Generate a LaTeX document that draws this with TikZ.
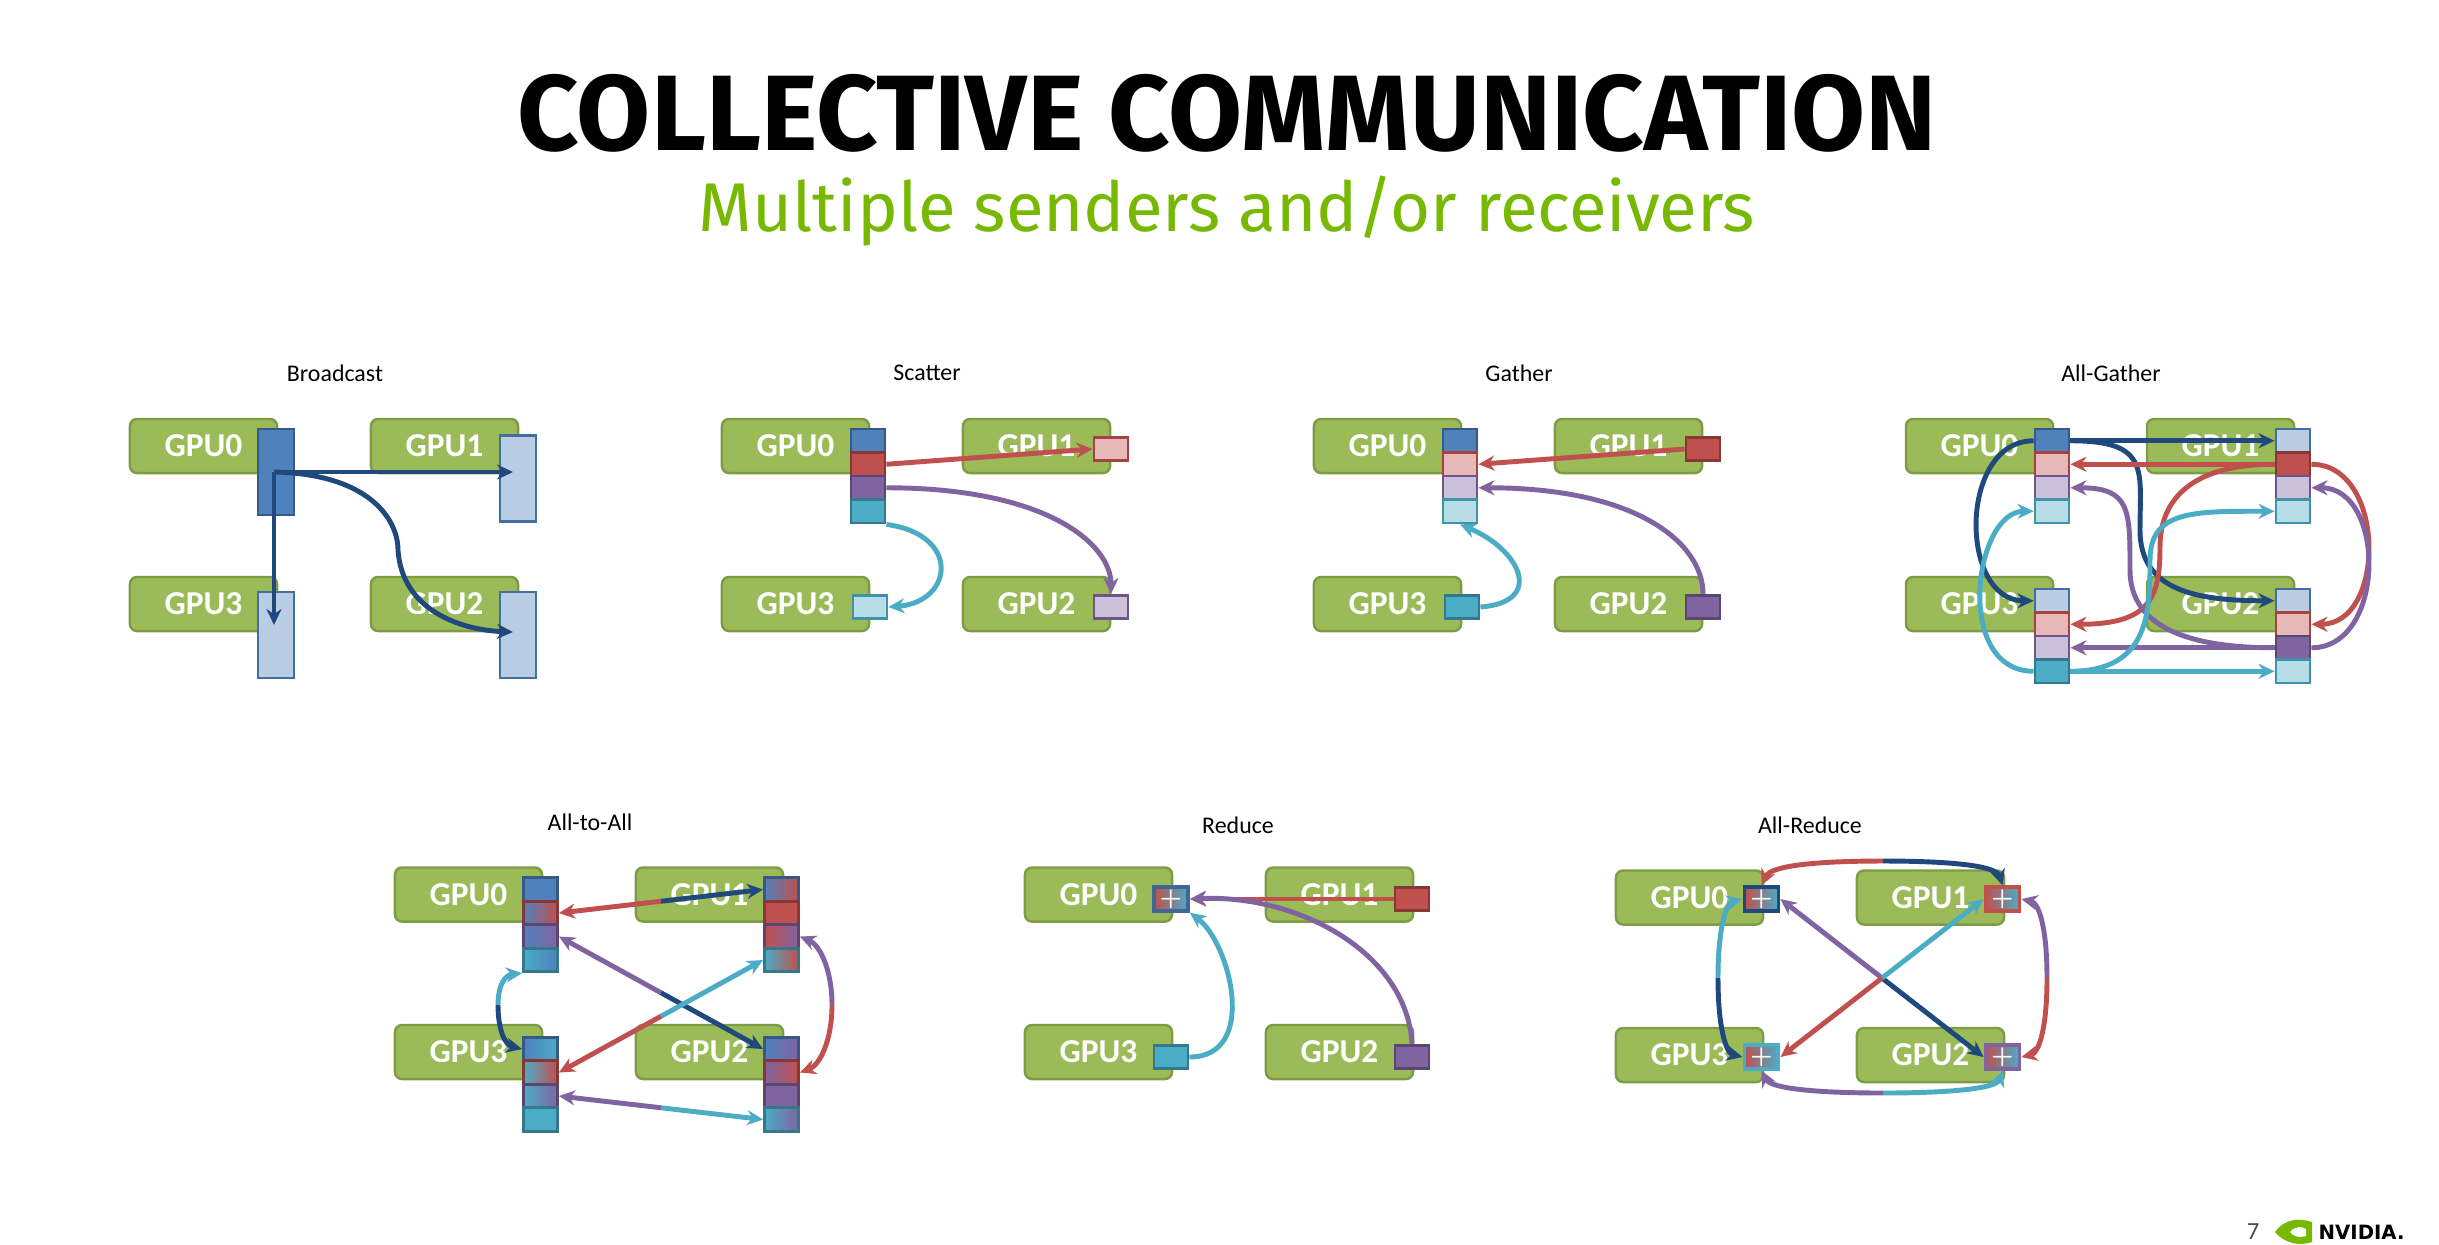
\documentclass[tikz,border=0pt]{standalone}
\usepackage{fontspec}
\usetikzlibrary{arrows.meta,calc}
\newfontfamily\carlito{Carlito}
\newfontfamily\fira{Fira Sans}
\definecolor{cBlue}{HTML}{4F81BD}
\definecolor{cRed}{HTML}{C0504D}
\definecolor{cPurple}{HTML}{8064A2}
\definecolor{cCyan}{HTML}{4BACC6}
\definecolor{dBlue}{HTML}{1F497D}
\definecolor{gpuF}{HTML}{9BBB59}
\definecolor{gpuB}{HTML}{7E9C45}
\definecolor{nvGreen}{RGB}{118,185,0}
\tikzset{
 gpu/.style={draw=gpuB, fill=gpuF, rounded corners=0.07cm, minimum width=1.47cm, minimum height=0.54cm, line width=0.7pt, font={\carlito\bfseries\fontsize{9.5}{10}\selectfont}, text=white, inner sep=0},
 cell/.style={minimum width=0.34cm, minimum height=0.235cm, inner sep=0, line width=0.8pt},
 sB/.style={fill=cBlue,draw=cBlue!70!black}, sR/.style={fill=cRed,draw=cRed!70!black},
 sP/.style={fill=cPurple,draw=cPurple!70!black}, sC/.style={fill=cCyan,draw=cCyan!70!black},
 lB/.style={fill=cBlue!40!white,draw=cBlue!85!black}, lR/.style={fill=cRed!40!white,draw=cRed!85!black},
 lP/.style={fill=cPurple!40!white,draw=cPurple!85!black}, lC/.style={fill=cCyan!40!white,draw=cCyan!85!black},
 gr/.style n args={3}{left color=#1,right color=#2,draw=#3},
 pc/.style={cell, left color=cRed, middle color=cPurple, right color=cCyan, draw=#1, line width=1.1pt, text=white, font={\bfseries\fontsize{6}{6}\selectfont}},
 arr/.style={line width=1.4pt, -{Stealth[length=0.16cm,width=0.15cm]}},
 ttl/.style={font={\carlito\fontsize{6.8}{8}\selectfont}, text=black},
}
\newcommand\gpustop[1]{%
 \node[gpu] (#1g0) at (203.5,446) {GPU0};
 \node[gpu] (#1g1) at (444.5,446) {GPU1};
 \node[gpu] (#1g3) at (203.5,604) {GPU3};
 \node[gpu] (#1g2) at (444.5,604) {GPU2};}
\newcommand\gpusbot[1]{%
 \node[gpu] (#1g0) at (468.5,894.5) {GPU0};
 \node[gpu] (#1g1) at (709.5,894.5) {GPU1};
 \node[gpu] (#1g3) at (468.5,1052) {GPU3};
 \node[gpu] (#1g2) at (709.5,1052) {GPU2};}
\newcommand\ccol[7]{%
 \node[cell,#4] (#1a) at (#2,#3) {};
 \node[cell,#5] (#1b) at (#2,#3+23.5) {};
 \node[cell,#6] (#1c) at (#2,#3+47) {};
 \node[cell,#7] (#1d) at (#2,#3+70.5) {};}
\newcommand\dbl[4]{%
 \coordinate (mm) at ($(#1)!0.5!(#3)$);
 \draw[arr,#2] (mm) -- (#1); \draw[arr,#4] (mm) -- (#3);}
\begin{document}
\begin{tikzpicture}[x=0.01cm,y=-0.01cm]
\useasboundingbox (0,0) rectangle (2439,1244);
\fill[white] (0,0) rectangle (2439,1244);
\node (title) at (1227,113) {\fira\bfseries\fontsize{30.5}{34}\selectfont COLLECTIVE COMMUNICATION};
\node[text=nvGreen] (sub) at (1227,211) {\fira\fontsize{19.6}{24}\selectfont Multiple senders and/or receivers};
% ---------- Broadcast
\node[ttl] (tB) at (335,373) {Broadcast};
\gpustop{B}
\node[cell,sB,minimum height=0.86cm,minimum width=0.36cm] (B0) at (276,472) {};
\node[cell,lB,minimum height=0.86cm,minimum width=0.36cm] (B1) at (518,478.5) {};
\node[cell,lB,minimum height=0.86cm,minimum width=0.36cm] (B3) at (276,635) {};
\node[cell,lB,minimum height=0.86cm,minimum width=0.36cm] (B2) at (518,635) {};
\coordinate (Bs) at (274,472);
\draw[arr,dBlue] (Bs) -- (513,472);
\draw[arr,dBlue] (Bs) -- (274,625);
\draw[arr,dBlue] (Bs) .. controls (370,474) and (398,520) .. (398,550) .. controls (402,610) and (460,630) .. (513,632);
% ---------- Scatter
\begin{scope}[shift={(592,0)}]
\node[ttl] (tS) at (335,373) {Scatter};
\gpustop{S}
\ccol{S0}{276}{440.75}{sB}{sR}{sP}{sC}
\node[cell,lR] (S1) at (519,449) {};
\node[cell,lP] (S2) at (519,607) {};
\node[cell,lC] (S3) at (278,607) {};
\draw[arr,cRed] (S0b.east) -- (S1.west);
\draw[arr,cPurple] (S0c.east) .. controls +(160,0) and +(0,-50) .. (S2.north);
\draw[arr,cCyan] (S0d.south east) .. controls +(75,10) and +(65,-5) .. (S3.east);
\end{scope}
% ---------- Gather
\begin{scope}[shift={(1184,0)}]
\node[ttl] (tG) at (335,373) {Gather};
\gpustop{G}
\ccol{G0}{276}{440.75}{sB}{lR}{lP}{lC}
\node[cell,sR] (G1) at (519,449) {};
\node[cell,sP] (G2) at (519,607) {};
\node[cell,sC] (G3) at (278,607) {};
\draw[arr,cRed] (G1.west) -- (G0b.east);
\draw[arr,cPurple] (G2.north) .. controls +(0,-50) and +(160,0) .. (G0c.east);
\draw[arr,cCyan] (G3.east) .. controls +(65,-5) and +(60,25) .. (G0d.south);
\end{scope}
% ---------- All-Gather
\begin{scope}[shift={(1776,0)}]
\node[ttl] (tA) at (335,373) {All-Gather};
\gpustop{A}
\ccol{A0}{276}{440.75}{sB}{lR}{lP}{lC}
\ccol{A1}{517}{440.75}{lB}{sR}{lP}{lC}
\ccol{A3}{276}{600.75}{lB}{lR}{lP}{sC}
\ccol{A2}{517}{600.75}{lB}{lR}{sP}{lC}
\draw[arr,dBlue] (A0a.east) -- (A1a.west);
\draw[arr,dBlue] (A0a.west) .. controls +(-75,0) and +(-75,0) .. (A3a.west);
\draw[arr,dBlue] (A0a.east) .. controls +(80,0) and +(0,-60) .. (364,530) .. controls +(0,60) and +(-80,0) .. (A2a.west);
\draw[arr,cRed] (A1b.west) -- (A0b.east);
\draw[arr,cRed] (A1b.west) .. controls +(-80,0) and +(0,-50) .. (384,547) .. controls +(0,50) and +(80,0) .. (A3b.east);
\draw[arr,cRed] (A1b.east) .. controls +(75,0) and +(75,0) .. (A2b.east);
\draw[arr,cPurple] (A2c.west) -- (A3c.east);
\draw[arr,cPurple] (A2c.west) .. controls +(-80,0) and +(0,60) .. (354,570) .. controls +(0,-60) and +(60,0) .. (A0c.east);
\draw[arr,cPurple] (A2c.east) .. controls +(75,0) and +(75,0) .. (A1c.east);
\draw[arr,cCyan] (A3d.east) -- (A2d.west);
\draw[arr,cCyan] (A3d.west) .. controls +(-80,0) and +(-60,0) .. (A0d.west);
\draw[arr,cCyan] (A3d.east) .. controls +(80,0) and +(0,50) .. (374,560) .. controls +(0,-50) and +(-80,0) .. (A1d.west);
\end{scope}
% ---------- All-to-All
\node[ttl] (tT) at (590,822) {All-to-All};
\gpusbot{T}
\ccol{T0}{540.5}{889.5}{sB}{gr={cBlue}{cRed}{cRed!70!black}}{gr={cBlue}{cPurple}{cPurple!70!black}}{gr={cCyan}{cBlue}{cCyan!70!black}}
\ccol{T1}{781.5}{889.5}{gr={cBlue}{cRed}{cBlue!70!black}}{sR}{gr={cRed}{cPurple}{cPurple!70!black}}{gr={cCyan}{cRed}{cCyan!70!black}}
\ccol{T3}{540.5}{1049}{gr={cBlue}{cCyan}{cBlue!70!black}}{gr={cCyan}{cRed}{cRed!70!black}}{gr={cCyan}{cPurple}{cPurple!70!black}}{sC}
\ccol{T2}{781.5}{1049}{gr={cBlue}{cPurple}{cBlue!70!black}}{gr={cPurple}{cRed}{cRed!70!black}}{sP}{gr={cCyan}{cPurple}{cCyan!70!black}}
\dbl{T0b.east}{cRed}{T1a.west}{dBlue}
\dbl{T0c.east}{cPurple}{T2a.west}{dBlue}
\dbl{T1d.west}{cCyan}{T3b.east}{cRed}
\dbl{T3c.east}{cPurple}{T2d.west}{cCyan}
\coordinate (TL) at (498,1005);
\draw[arr,cCyan] (TL) .. controls (498,985) and (505,975) .. (T0d.south west);
\draw[arr,dBlue] (TL) .. controls (498,1030) and (505,1045) .. (T3a.west);
\coordinate (TR) at (832,1005);
\draw[arr,cPurple] (TR) .. controls (832,970) and (820,945) .. (T1c.east);
\draw[arr,cRed] (TR) .. controls (832,1040) and (820,1065) .. (T2b.east);
% ---------- Reduce
\begin{scope}[shift={(630,0)}]
\node[ttl] (tR) at (608,825) {Reduce};
\gpusbot{R}
\node[pc=cBlue!80!black] (R0) at (541,899) {+};
\node[cell,sR] (R1) at (782,899) {};
\node[cell,sC] (R3) at (541,1057) {};
\node[cell,sP] (R2) at (782,1057) {};
\draw[arr,cRed] (R1.west) -- (R0.east);
\draw[arr,cPurple] (R2.north) .. controls +(-5,-90) and +(110,-5) .. (R0.east);
\draw[arr,cCyan] (R3.east) .. controls +(70,0) and +(40,30) .. (R0.south east);
\end{scope}
% ---------- All-Reduce
\begin{scope}[shift={(1221,3)}]
\node[ttl] (tU) at (589,822) {All-Reduce};
\gpusbot{U}
\node[pc=dBlue] (U0) at (540.5,896) {+};
\node[pc=cRed] (U1) at (781.5,896) {+};
\node[pc=cCyan] (U3) at (540.5,1054) {+};
\node[pc=cPurple] (U2) at (781.5,1054) {+};
\dbl{U0.east}{cPurple}{U2.west}{dBlue}
\dbl{U1.west}{cCyan}{U3.east}{cRed}
\coordinate (Ut) at (662,858);
\draw[arr,cRed] (Ut) .. controls (600,858) and (550,862) .. (U0.north);
\draw[arr,dBlue] (Ut) .. controls (724,858) and (775,862) .. (U1.north);
\coordinate (Ub) at (662,1090);
\draw[arr,cPurple] (Ub) .. controls (600,1090) and (550,1086) .. (U3.south);
\draw[arr,cCyan] (Ub) .. controls (724,1090) and (775,1086) .. (U2.south);
\coordinate (Ul) at (497,975);
\draw[arr,cCyan] (Ul) .. controls (497,925) and (505,900) .. (U0.west);
\draw[arr,dBlue] (Ul) .. controls (497,1025) and (505,1050) .. (U3.west);
\coordinate (Ur) at (826,975);
\draw[arr,cPurple] (Ur) .. controls (826,925) and (818,900) .. (U1.east);
\draw[arr,cRed] (Ur) .. controls (826,1025) and (818,1050) .. (U2.east);
\end{scope}
% ---------- footer
\node[text=black!70] (pg) at (2253,1232) {\carlito\fontsize{7}{8}\selectfont 7};
\fill[nvGreen] (2275,1232) .. controls (2285,1218) and (2300,1218) .. (2312,1222) -- (2312,1242) .. controls (2300,1246) and (2285,1244) .. cycle;
\fill[white] (2290,1232) .. controls (2295,1226) and (2302,1226) .. (2306,1229) -- (2306,1236) .. controls (2300,1238) and (2294,1237) .. cycle;
\node[anchor=west,inner sep=0] (nv) at (2318,1232) {\fontspec{DejaVu Sans}\bfseries\fontsize{5.6}{6}\selectfont NVIDIA.};
\end{tikzpicture}
\end{document}
